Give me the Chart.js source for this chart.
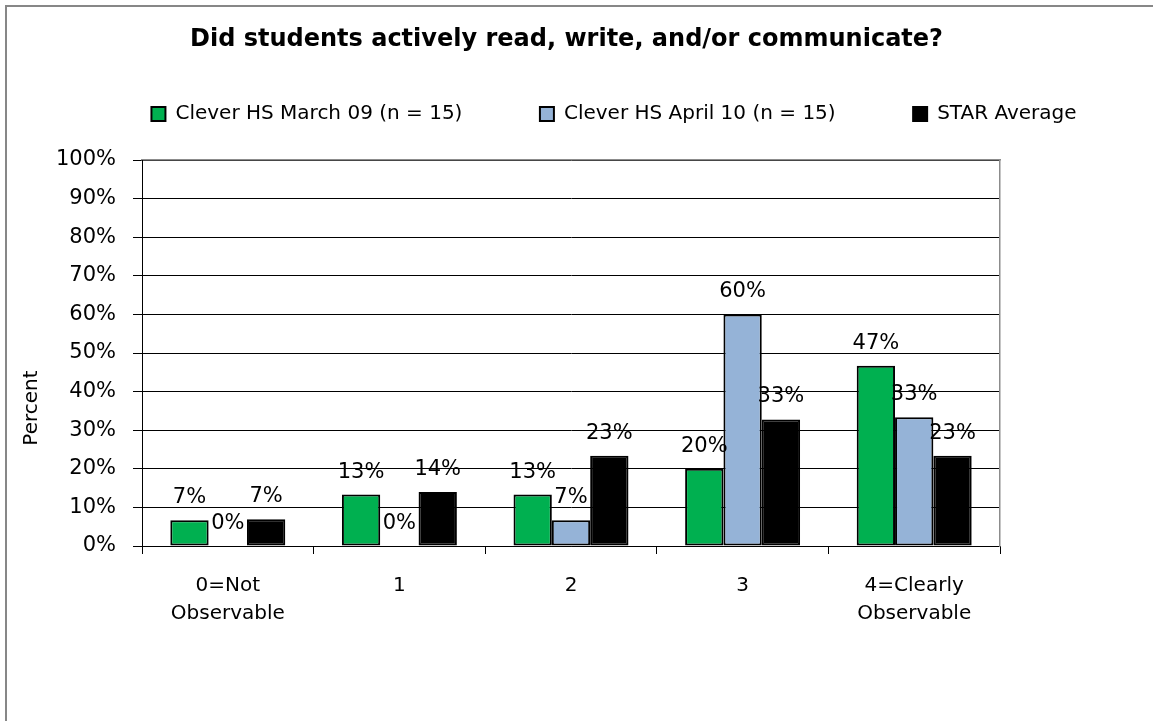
<!DOCTYPE html>
<html>
<head>
<meta charset="utf-8">
<script src="https://cdn.jsdelivr.net/npm/chart.js@4.4.1/dist/chart.umd.min.js"></script>
<style>
  html, body { margin: 0; padding: 0; background: #fff; overflow: hidden; }
  #wrap { position: relative; width: 1153px; height: 721px; }
  #frame { position: absolute; left: 5px; top: 5px; width: 1200px; height: 800px;
           border: 2px solid #878787; pointer-events: none; }
</style>
</head>
<body>
<div id="wrap">
  <canvas id="chart"></canvas>
  <div id="frame"></div>
</div>
<script>
// Data
const categories = [['0=Not', 'Observable'], '1', '2', '3', ['4=Clearly', 'Observable']];
const seriesNames = ['Clever HS March 09 (n = 15)', 'Clever HS April 10 (n = 15)', 'STAR Average'];
const march09 = [6.67, 13.33, 13.33, 20, 46.67];
const april10 = [0, 0, 6.67, 60, 33.33];
const starAvg = [6.9, 14.0, 23.4, 32.8, 23.4];
const seriesColors = ['#00B050', '#95B3D7', '#000000'];

const FONT = 'DejaVu Sans';
Chart.defaults.font.family = FONT;
Chart.defaults.color = '#000';

// value labels above each bar, Excel style
const barLabels = {
  id: 'barLabels',
  afterDatasetsDraw(chart) {
    const ctx = chart.ctx;
    ctx.save();
    ctx.font = '21px "' + FONT + '"';
    ctx.fillStyle = '#000';
    ctx.textAlign = 'center';
    ctx.textBaseline = 'alphabetic';
    chart.data.datasets.forEach((ds, i) => {
      chart.getDatasetMeta(i).data.forEach((bar, j) => {
        ctx.fillText(Math.round(ds.data[j]) + '%', bar.x, bar.y - 17);
      });
    });
    ctx.restore();
  }
};

// y axis title sits lower than centre in the original
const yTitle = {
  id: 'yTitle',
  afterDraw(chart) {
    const ctx = chart.ctx;
    ctx.save();
    ctx.translate(32, 408);
    ctx.rotate(-Math.PI / 2);
    ctx.font = '20px "' + FONT + '"';
    ctx.fillStyle = '#000';
    ctx.textAlign = 'center';
    ctx.textBaseline = 'middle';
    ctx.fillText('Percent', 0, 0);
    ctx.restore();
  }
};

// nudge title and legend sideways
const layoutTweaks = {
  id: 'layoutTweaks',
  afterLayout(chart) {
    chart.legend.left += 37.5;
    chart.legend.right += 37.5;
    chart.titleBlock.left -= 10;
    chart.titleBlock.right -= 10;
  }
};

const datasets = [march09, april10, starAvg].map((vals, i) => ({
  label: seriesNames[i],
  data: vals,
  backgroundColor: seriesColors[i],
  borderColor: '#000',
  borderWidth: 2,
  borderSkipped: false,
  categoryPercentage: 0.67,
  barPercentage: 1.0
}));

new Chart(document.getElementById('chart'), {
  type: 'bar',
  data: { labels: categories, datasets: datasets },
  plugins: [barLabels, yTitle, layoutTweaks],
  options: {
    responsive: true,
    maintainAspectRatio: false,
    animation: false,
    devicePixelRatio: 1,
    layout: { padding: 0 },
    plugins: {
      title: {
        display: true,
        text: 'Did students actively read, write, and/or communicate?',
        font: { size: 24, weight: 'bold' },
        color: '#000',
        padding: { top: 25.6, bottom: -27.9 }
      },
      legend: {
        display: true,
        position: 'top',
        labels: {
          boxWidth: 14,
          boxHeight: 14,
          padding: 77.5,
          font: { size: 20 },
          color: '#000'
        }
      },
      tooltip: { enabled: false }
    },
    scales: {
      x: {
        position: 'bottom',
        grid: { offset: true, drawOnChartArea: false, drawTicks: true, tickLength: 8, color: '#000' },
        border: { display: true, color: '#000', width: 1 },
        ticks: { font: { size: 20, lineHeight: 1.4 }, color: '#000', padding: 18, maxRotation: 0 },
        afterFit(scale) { scale.height = 175; }
      },
      xTop: {
        type: 'category',
        position: 'top',
        grid: { display: false },
        border: { display: true, color: '#8c8c8c', width: 1.5 },
        ticks: { display: false },
        afterFit(scale) { scale.height = 26; }
      },
      y: {
        min: 0,
        max: 100,
        ticks: { stepSize: 10, callback: v => v + '%', font: { size: 21 }, color: '#000', padding: 17 },
        grid: { color: '#000', lineWidth: 1, tickLength: 9 },
        border: { display: true, color: '#000', width: 1 },
        afterFit(scale) { scale.width = 142; }
      },
      yRight: {
        position: 'right',
        min: 0,
        max: 100,
        grid: { display: false },
        border: { display: true, color: '#8c8c8c', width: 1.5 },
        ticks: { display: false },
        afterFit(scale) { scale.width = 153; }
      }
    }
  }
});
</script>
</body>
</html>
